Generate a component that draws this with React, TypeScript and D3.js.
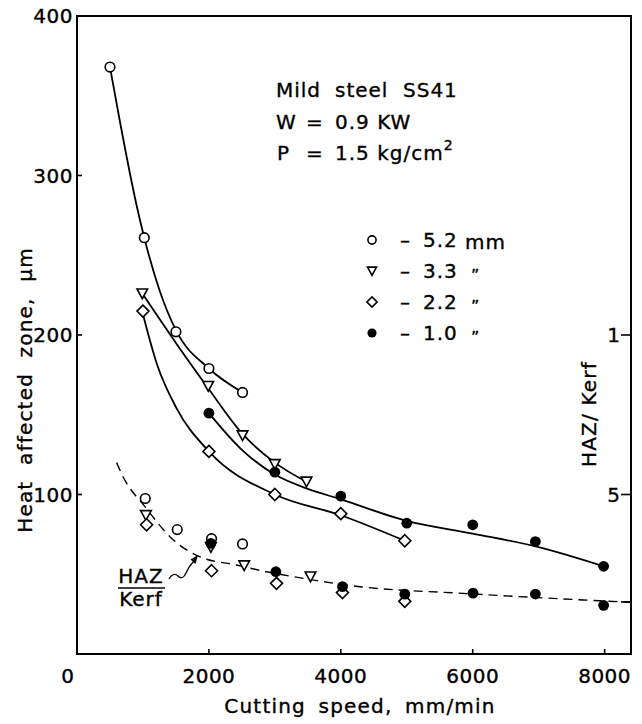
import React from "react";
import * as d3 from "d3";

// ---------- data ----------
const xTickValues = [2000, 4000, 6000, 8000];
const yTickValues = [100, 200, 300, 400];
const rightTickValues = [200, 100, 32.7];
const rightTickLabels = ["1", "5", ""];

// HAZ (μm) measured points
const speed52 = [500, 1020, 1500, 2000, 2510];
const haz52 = [368, 261, 202, 179, 164];
const speed33 = [990, 1990, 2510, 3000, 3480];
const haz33 = [226, 168, 137, 119, 108];
const speed22 = [1000, 2000, 3000, 4000, 4970];
const haz22 = [215, 127, 100, 88, 71];
const speed10 = [2000, 3000, 4000, 5000, 6000, 6950, 7985];
const haz10 = [151, 114, 99, 82, 81, 70.5, 55];

// fitted curves
const fit52Speed = [500, 650, 900, 1020, 1260, 1500, 2000, 2510];
const fit52Val = [368, 334, 282, 261, 227, 203, 179, 164];
const fit33Speed = [990, 1500, 2000, 2510, 3000, 3480];
const fit33Val = [226, 195, 166, 138, 120, 108];
const fit22Speed = [1000, 1210, 1510, 2000, 3000, 4000, 4970];
const fit22Val = [213, 182, 154, 127, 100, 87, 71];
const fit10Speed = [2000, 2500, 3000, 3500, 4000, 5000, 6000, 7000, 7985];
const fit10Val = [151, 128, 112.5, 103.5, 97, 83.5, 75.5, 67, 55];

// HAZ / Kerf ratio points (plotted on left scale)
const ratioSpeed52 = [1035, 1520, 2040, 2510];
const ratioVal52 = [97.5, 78, 72.3, 69];
const ratioSpeed33 = [1045, 2030, 2535, 3540];
const ratioVal33 = [87, 67, 55.5, 48.5];
const ratioSpeed22 = [1055, 2040, 3025, 4025, 4970];
const ratioVal22 = [81, 52.2, 44.3, 38.5, 33];
const ratioSpeed10 = [2030, 3015, 4025, 4970, 6005, 6950, 7985];
const ratioVal10 = [69.4, 51.6, 42.2, 37.5, 38.2, 37.6, 30.5];
const ratioFitSpeed = [600, 700, 1030, 1460, 1860, 2420, 2870, 3280, 4290, 5850, 8400];
const ratioFitVal = [120, 111, 92.4, 71.5, 61, 55.8, 51.6, 48.5, 42.2, 38, 32.4];

const legendLabels = ["5.2", "3.3", "2.2", "1.0"];
const legendUnits = ["mm", "\u201D", "\u201D", "\u201D"];

// ---------- layout ----------
const W = 642;
const H = 724;
const FONT = "DejaVu Sans";

type P = [number, number];
const zip = (a: number[], b: number[]): P[] => a.map((v, i) => [v, b[i]]);

function Marker({ kind, cx, cy, s = 1 }: { kind: string; cx: number; cy: number; s?: number }) {
  const sw = 1.6;
  if (kind === "circle")
    return <circle cx={cx} cy={cy} r={4.8 * s} fill="#fff" stroke="#000" strokeWidth={sw} />;
  if (kind === "filled") return <circle cx={cx} cy={cy} r={5.4 * s} fill="#000" />;
  if (kind === "tri") {
    const w = 5.3 * s;
    const h1 = 4.6 * s;
    const h2 = 5.2 * s;
    return (
      <path
        d={`M${cx - w},${cy - h1}L${cx + w},${cy - h1}L${cx},${cy + h2}Z`}
        fill="#fff"
        stroke="#000"
        strokeWidth={sw}
        strokeLinejoin="miter"
      />
    );
  }
  const r = 6 * s;
  return (
    <path
      d={`M${cx},${cy - r}L${cx + r},${cy}L${cx},${cy + r}L${cx - r},${cy}Z`}
      fill="#fff"
      stroke="#000"
      strokeWidth={sw}
    />
  );
}

export default function App() {
  const x = d3.scaleLinear().domain([0, 8400]).range([77, 631]);
  const y = d3.scaleLinear().domain([0, 400]).range([654, 16]);
  const line = d3
    .line<P>()
    .x((d) => x(d[0]))
    .y((d) => y(d[1]))
    .curve(d3.curveMonotoneX);

  const fits: P[][] = [
    zip(fit52Speed, fit52Val),
    zip(fit33Speed, fit33Val),
    zip(fit22Speed, fit22Val),
    zip(fit10Speed, fit10Val),
  ];

  const groups: { kind: string; pts: P[] }[] = [
    { kind: "tri", pts: zip(ratioSpeed33, ratioVal33) },
    { kind: "diamond", pts: zip(ratioSpeed22, ratioVal22) },
    { kind: "circle", pts: zip(ratioSpeed52, ratioVal52) },
    { kind: "filled", pts: zip(ratioSpeed10, ratioVal10) },
    { kind: "circle", pts: zip(speed52, haz52) },
    { kind: "tri", pts: zip(speed33, haz33) },
    { kind: "diamond", pts: zip(speed22, haz22) },
    { kind: "filled", pts: zip(speed10, haz10) },
  ];

  const txt = {
    fontFamily: FONT,
    fontSize: 20,
    letterSpacing: 1,
    fill: "#000",
    stroke: "#000",
    strokeWidth: 0.35,
  } as const;
  const legendKinds = ["circle", "tri", "diamond", "filled"];
  const legendY = [240, 271, 302, 333];

  return (
    <svg
      width={W}
      height={H}
      viewBox={`0 0 ${W} ${H}`}
      style={{ position: "absolute", left: 0, top: 0, background: "#fff" }}
    >
      <rect x={0} y={0} width={W} height={H} fill="#fff" />
      {/* frame */}
      <rect
        x={x(0)}
        y={y(400)}
        width={x(8400) - x(0)}
        height={y(0) - y(400)}
        fill="none"
        stroke="#000"
        strokeWidth={2}
      />
      {/* left ticks */}
      {yTickValues.map((v) => (
        <g key={"yl" + v}>
          <line x1={x(0)} x2={x(0) + 5} y1={y(v)} y2={y(v)} stroke="#000" strokeWidth={1.6} />
          <text {...txt} x={73} y={y(v)} dy="0.36em" textAnchor="end" letterSpacing={0.5}>
            {v}
          </text>
        </g>
      ))}
      {/* bottom ticks */}
      {xTickValues.map((v) => (
        <g key={"xt" + v}>
          <line x1={x(v)} x2={x(v)} y1={y(0)} y2={y(0) - 5} stroke="#000" strokeWidth={1.6} />
          <text {...txt} x={x(v)} y={683} textAnchor="middle" letterSpacing={0.5}>
            {v}
          </text>
        </g>
      ))}
      <text {...txt} x={68} y={683} textAnchor="middle">
        0
      </text>
      {/* right ticks */}
      {rightTickValues.map((v, i) => (
        <g key={"yr" + v}>
          <line x1={x(8400)} x2={x(8400) - 10} y1={y(v)} y2={y(v)} stroke="#000" strokeWidth={1.6} />
          {rightTickLabels[i] && (
            <text {...txt} x={614} y={y(v)} dy="0.36em" textAnchor="middle">
              {rightTickLabels[i]}
            </text>
          )}
        </g>
      ))}
      {/* axis titles */}
      <text {...txt} x={360} y={713} textAnchor="middle" wordSpacing={5} letterSpacing={1.2}>
        Cutting speed, mm/min
      </text>
      <text
        {...txt}
        transform="translate(32,390) rotate(-90)"
        textAnchor="middle"
        wordSpacing={8}
        letterSpacing={1.2}
      >
        Heat affected zone, μm
      </text>
      <text {...txt} transform="translate(596,414) rotate(-90)" textAnchor="middle" letterSpacing={1.2}>
        HAZ/ Kerf
      </text>

      {/* fitted curves */}
      {fits.map((f, i) => (
        <path key={"fit" + i} d={line(f) || ""} fill="none" stroke="#000" strokeWidth={1.8} />
      ))}
      <path
        d={line(zip(ratioFitSpeed, ratioFitVal)) || ""}
        fill="none"
        stroke="#000"
        strokeWidth={1.4}
        strokeDasharray="9,6"
      />

      {/* markers */}
      {groups.map((g, gi) =>
        g.pts.map((p, i) => <Marker key={gi + "-" + i} kind={g.kind} cx={x(p[0])} cy={y(p[1])} />)
      )}

      {/* info block */}
      <text {...txt}>
        <tspan x={276} y={97}>Mild</tspan>
        <tspan x={335} y={97}>steel</tspan>
        <tspan x={403} y={97}>SS41</tspan>
      </text>
      <text {...txt}>
        <tspan x={276} y={129}>W</tspan>
        <tspan x={306} y={129}>=</tspan>
        <tspan x={335} y={129}>0.9 KW</tspan>
      </text>
      <text {...txt}>
        <tspan x={277} y={160}>P</tspan>
        <tspan x={306} y={160}>=</tspan>
        <tspan x={335} y={160}>1.5 kg/cm</tspan>
        <tspan fontSize={14} dy={-10}>2</tspan>
      </text>

      {/* legend */}
      {legendLabels.map((lab, i) => (
        <g key={"lg" + i}>
          <Marker kind={legendKinds[i]} cx={372} cy={legendY[i]} s={0.85} />
          <text {...txt} x={400} y={legendY[i] + 7}>
            –
          </text>
          <text {...txt} x={423} y={legendY[i] + 7}>
            {lab}
          </text>
          {i === 0 ? (
            <text {...txt} x={465} y={legendY[i] + 9}>
              {legendUnits[i]}
            </text>
          ) : (
            <text {...txt} x={471} y={legendY[i] + 10} fontSize={16}>
              {legendUnits[i]}
            </text>
          )}
        </g>
      ))}

      {/* HAZ/Kerf annotation */}
      <text {...txt} x={141} y={583} textAnchor="middle">
        HAZ
      </text>
      <line x1={118} x2={165} y1={588} y2={588} stroke="#000" strokeWidth={1.6} />
      <text {...txt} x={141} y={606} textAnchor="middle">
        Kerf
      </text>
      <path
        d="M169,579 C172,574 175,573 178,576 C181,579 184,578 186,573 C188,568 190,565 194,561"
        fill="none"
        stroke="#000"
        strokeWidth={1.3}
      />
      <path d="M198,555 L190.5,559.5 L195.5,564 Z" fill="#000" />
    </svg>
  );
}
